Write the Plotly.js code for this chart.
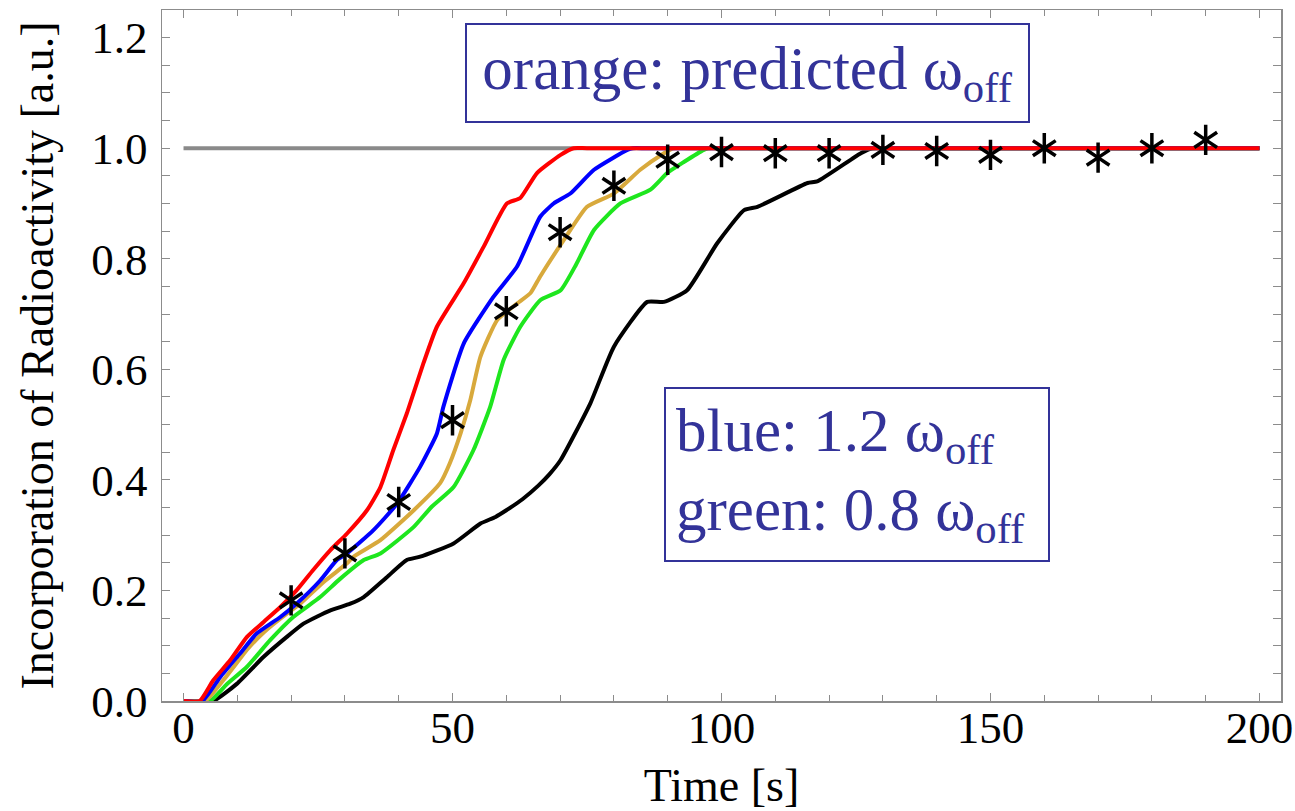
<!DOCTYPE html>
<html>
<head>
<meta charset="utf-8">
<script src="https://cdn.plot.ly/plotly-3.0.1.min.js"></script>
<style>
html,body{margin:0;padding:0;background:#fff;}
#chart{width:1295px;height:811px;}
</style>
</head>
<body>
<div id="chart"></div>
<script>
// Reference line
const refX = [0, 200];
const refY = [1, 1];

// Simulated curves (time in s, incorporation a.u.)
const blackX = [0,5.5,9.9,14.9,19.2,22.3,27.3,31,33.5,37.8,41.5,44,50.2,55.2,58,60,63,66,68,70.1,75.6,80,86.2,89.3,93.6,99.2,104.2,106.7,116,117.8,125.9,128,131,200];
const blackY = [0,0,0.031,0.08,0.116,0.14,0.164,0.176,0.188,0.224,0.255,0.261,0.285,0.321,0.333,0.345,0.365,0.39,0.41,0.436,0.538,0.641,0.722,0.722,0.743,0.828,0.888,0.894,0.937,0.94,0.991,1,1,1];

const greenX = [0,4.9,8,11.8,16.1,20.4,25.4,29,33.5,36.6,42.8,46,50.2,53.9,57,59.5,62.6,66.3,70.1,73,76.3,81.2,86.8,89.9,93,96.7,97.5,100,200];
const greenY = [0,0,0.03,0.062,0.11,0.152,0.188,0.22,0.255,0.267,0.315,0.35,0.387,0.454,0.532,0.617,0.677,0.725,0.743,0.79,0.852,0.9,0.925,0.955,0.975,0.997,1,1,1];

const orangeX = [0,4,8,12,15,19.2,21.7,26,30.4,31.6,36.6,42.8,47.7,49.5,51.5,53.3,55.2,58.3,62,64.5,66.3,70.7,75,80,84.9,89.3,91,94,200];
const orangeY = [0,0,0.045,0.095,0.125,0.158,0.176,0.215,0.249,0.261,0.291,0.345,0.394,0.43,0.484,0.544,0.623,0.689,0.719,0.738,0.768,0.834,0.894,0.918,0.961,0.991,1,1,1];

const blueX = [0,3.5,6.8,10.5,13.6,18,21,25.4,28.5,30.4,35.3,39.7,44,47.1,48.3,52.1,57.6,62,66.3,68.8,71.9,76.3,82.5,83.5,86,200];
const blueY = [0,0,0.043,0.086,0.122,0.152,0.176,0.218,0.255,0.267,0.309,0.357,0.424,0.484,0.532,0.647,0.731,0.786,0.876,0.9,0.918,0.961,0.997,1,1,1];

const redX = [0,3,5.5,8.7,11.8,14.9,18,21,24.1,27.3,30.4,34.1,36.6,39,41.5,44.6,47.1,52.1,55.8,60.1,62.6,65.7,70.1,72.5,75,200];
const redY = [0,0,0.037,0.074,0.116,0.143,0.17,0.2,0.237,0.273,0.303,0.345,0.387,0.454,0.52,0.611,0.677,0.756,0.822,0.9,0.91,0.955,0.988,1,1,1];

// Measured data points
const dataX = [20,30,40,50,60,70,80,90,100,110,120,130,140,150,160,170,180,190];
const dataY = [0.182,0.267,0.36,0.508,0.705,0.848,0.932,0.979,0.993,0.991,0.991,0.997,0.995,0.988,1.0,0.983,1.0,1.015];

// Tick labels
const xTickVals = [0,50,100,150,200];
const xTickText = ["0","50","100","150","200"];
const yTickVals = [0,0.2,0.4,0.6,0.8,1.0,1.2];
const yTickText = ["0.0","0.2","0.4","0.6","0.8","1.0","1.2"];

const LW = 4;
function line(x, y, color, smooth) {
  return {x: x, y: y, type: 'scatter', mode: 'lines',
    line: {color: color, width: LW, shape: smooth ? 'spline' : 'linear', smoothing: 0.5},
    hoverinfo: 'skip', showlegend: false};
}

const traces = [
  line(refX, refY, '#8a8a8a', false),
  line(blackX, blackY, '#000000', true),
  line(greenX, greenY, '#1ee61e', true),
  line(orangeX, orangeY, '#d8a93c', true),
  line(blueX, blueY, '#0000ff', true),
  line(redX, redY, '#ff0000', true),
  {x: dataX, y: dataY, type: 'scatter', mode: 'markers', showlegend: false,
   marker: {symbol: 'y-up-open', size: 19, color: '#000', line: {color: '#000', width: 3.5}}},
  {x: dataX, y: dataY, type: 'scatter', mode: 'markers', showlegend: false,
   marker: {symbol: 'y-down-open', size: 19, color: '#000', line: {color: '#000', width: 3.5}}}
];

const FONT = 'Liberation Serif, Times New Roman, serif';
const AXC = '#8c8c8c';
const TXT = '#333399';

const layout = {
  width: 1295, height: 811,
  margin: {l: 162, r: 14, t: 10, b: 110},
  paper_bgcolor: '#fff', plot_bgcolor: '#fff',
  font: {family: FONT, color: '#000'},
  showlegend: false,
  xaxis: {
    range: [-4, 204], tickvals: xTickVals, ticktext: xTickText,
    showgrid: false, zeroline: false,
    showline: true, linecolor: AXC, linewidth: 1.5, mirror: 'allticks',
    ticks: 'inside', ticklen: 8, tickwidth: 1.2, tickcolor: AXC,
    minor: {dtick: 10, ticks: 'inside', ticklen: 6, tickwidth: 1, tickcolor: AXC, showgrid: false},
    tickfont: {family: FONT, size: 45, color: '#000'},
    ticklabelstandoff: -14,
    title: {text: 'Time [s]', font: {family: FONT, size: 46, color: '#000'}, standoff: 20},
    automargin: false
  },
  yaxis: {
    range: [0, 1.25], tickvals: yTickVals, ticktext: yTickText,
    showgrid: false, zeroline: false,
    showline: true, linecolor: AXC, linewidth: 1.5, mirror: 'allticks',
    ticks: 'inside', ticklen: 8, tickwidth: 1.2, tickcolor: AXC,
    minor: {dtick: 0.05, ticks: 'inside', ticklen: 8, tickwidth: 1, tickcolor: AXC, showgrid: false},
    tickfont: {family: FONT, size: 45, color: '#000'},
    ticklabelstandoff: 4,
    title: {text: 'Incorporation of Radioactivity [a.u.]', font: {family: FONT, size: 46, color: '#000'}, standoff: 23},
    automargin: false
  },
  annotations: [
    {x: 104.9, y: 1.136, xref: 'x', yref: 'y', xanchor: 'center', yanchor: 'middle',
     text: 'orange: predicted ω<sub>off</sub>', showarrow: false,
     font: {family: FONT, size: 61, color: TXT},
     bordercolor: TXT, borderwidth: 2, borderpad: 2, bgcolor: '#fff',
     width: 557, height: 92, align: 'center'},
    {x: 125.1, y: 0.4095, xref: 'x', yref: 'y', xanchor: 'center', yanchor: 'middle',
     text: 'blue: 1.2 ω<sub>off</sub><br>green: 0.8 ω<sub>off</sub>', showarrow: false,
     font: {family: FONT, size: 61, color: TXT},
     bordercolor: TXT, borderwidth: 2, borderpad: 10, bgcolor: '#fff',
     width: 362, height: 151, align: 'left'}
  ]
};

Plotly.newPlot('chart', traces, layout, {displayModeBar: false, staticPlot: true});
</script>
</body>
</html>
